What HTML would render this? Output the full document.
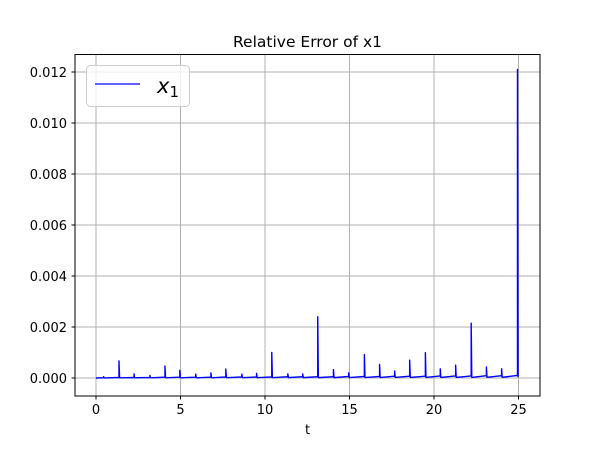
<!DOCTYPE html>
<html><head><meta charset="utf-8"><style>
body{margin:0;background:#fff}
svg text{font-family:"DejaVu Sans","Liberation Sans",sans-serif}
</style></head><body>
<svg id="chart" width="600" height="450" xmlns="http://www.w3.org/2000/svg">
<rect width="600" height="450" fill="#fff"/>
<text x="307.5" y="47" text-anchor="middle" font-size="15.5">Relative Error of x1</text>
<g id="grid"></g>
<g id="series"></g>
<rect x="75" y="54.5" width="465" height="341.5" fill="none" stroke="#000" stroke-width="1"/>
<g id="ticks"></g>
<text x="307.5" y="434" text-anchor="middle" font-size="13">t</text>
<g>
<rect x="86.5" y="65.5" width="103" height="41" rx="4" fill="#fff" fill-opacity="0.8" stroke="#ccc"/>
<line x1="95" y1="84" x2="140" y2="84" stroke="#0000ff" stroke-width="1.3"/>
<text x="157" y="93" font-size="21" font-style="italic">x<tspan font-style="normal" font-size="15" dy="4">1</tspan></text>
</g>
</svg>
<script>
const spikeTimes=[0.45,1.36,2.25,3.19,4.08,4.96,5.9,6.8,7.68,8.63,9.5,10.4,11.35,12.23,13.12,14.05,14.95,15.88,16.78,17.67,18.56,19.49,20.37,21.28,22.2,23.1,24.0,24.94];
const spikePeaks=[0.00005,0.00067,0.00016,0.0001,0.00047,0.0003,0.00015,0.0002,0.00035,0.00015,0.00018,0.001,0.00016,0.00016,0.0024,0.00033,0.0002,0.00092,0.00053,0.00027,0.0007,0.00099,0.00036,0.0005,0.00215,0.00043,0.00036,0.0121];
const baseValues=[0.00001,0.00002,0.00002,0.00002,0.00003,0.00003,0.00003,0.00003,0.00004,0.00004,0.00004,0.00004,0.00005,0.00005,0.00005,0.00005,0.00006,0.00006,0.00006,0.00007,0.00007,0.00007,0.00008,0.00008,0.00008,0.00009,0.00009,0.0001];
const xTicks=[0,5,10,15,20,25];
const yTicks=[0,0.002,0.004,0.006,0.008,0.010,0.012];
const yTickLabels=["0.000","0.002","0.004","0.006","0.008","0.010","0.012"];
const NS="http://www.w3.org/2000/svg";
const xs=t=>96+t*16.9;
const ys=v=>378-v*25500;
function mk(tag,attrs,parent){const e=document.createElementNS(NS,tag);for(const k in attrs)e.setAttribute(k,attrs[k]);parent.appendChild(e);return e;}
const grid=document.getElementById('grid'),ticks=document.getElementById('ticks'),series=document.getElementById('series');
xTicks.forEach(t=>{
 const g=mk('line',{x1:xs(t),x2:xs(t),y1:54.5,y2:396,stroke:'#b0b0b0','stroke-width':1},grid);
 
 
 const tk=mk('line',{x1:xs(t),x2:xs(t),y1:396,y2:399.5,stroke:'#000'},ticks);
 
 
 const tx=mk('text',{x:xs(t),y:414,'text-anchor':'middle','font-size':13},ticks);
 tx.textContent=t;
 
 
});
yTicks.forEach((v,i)=>{
 const g=mk('line',{x1:75,x2:540,y1:ys(v),y2:ys(v),stroke:'#b0b0b0','stroke-width':1},grid);
 
 
 const tk=mk('line',{x1:71.5,x2:75,y1:ys(v),y2:ys(v),stroke:'#000'},ticks);
 
 
 const tx=mk('text',{x:67,y:ys(v)+5,'text-anchor':'end','font-size':13},ticks);
 tx.textContent=yTickLabels[i];
 
 
});
let d=`M${xs(0)},${ys(0)}`;
spikeTimes.forEach((t,i)=>{
 d+=` L${xs(t)},${ys(baseValues[i])} L${xs(t)},${ys(spikePeaks[i])} L${xs(t)+0.6},${ys(baseValues[i]*0.3)}`;
});
const p=mk('path',{d:d,fill:'none',stroke:'#0000ff','stroke-width':1.4,'stroke-linejoin':'round'},series);


</script>
</body></html>
